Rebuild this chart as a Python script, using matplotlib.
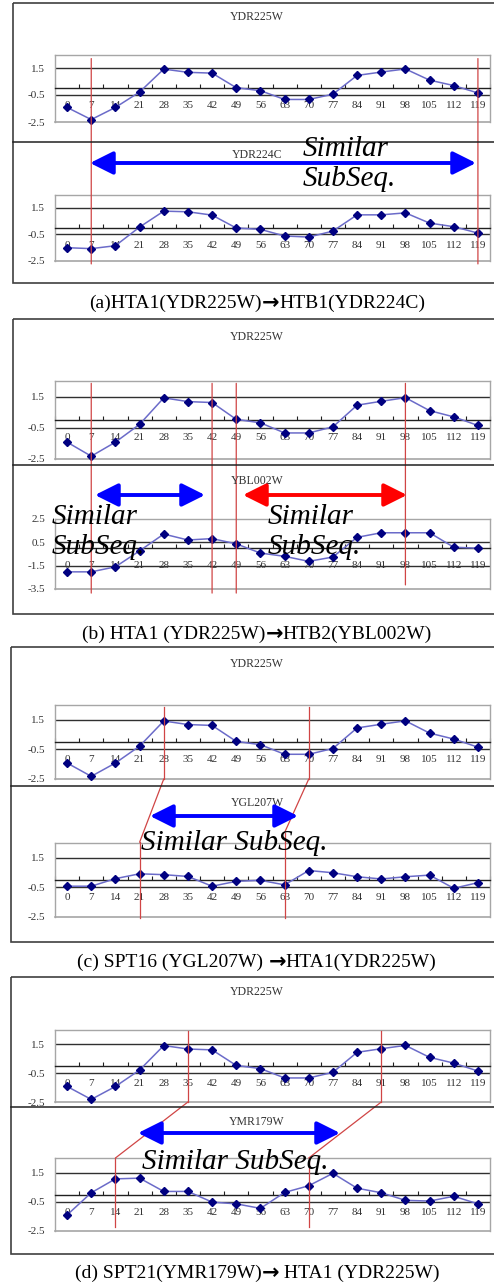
import matplotlib
matplotlib.use('Agg')
import matplotlib.pyplot as plt
from matplotlib.patches import ConnectionPatch, Rectangle

W, H = 494, 1287

days = [0, 7, 14, 21, 28, 35, 42, 49, 56, 63, 70, 77, 84, 91, 98, 105, 112, 119]

ydr225w = [-1.42, -2.32, -1.42, -0.28, 1.42, 1.18, 1.12, 0.04, -0.18, -0.83,
           -0.83, -0.44, 0.95, 1.2, 1.43, 0.6, 0.2, -0.35]
ydr224c = [-1.5, -1.57, -1.35, 0.05, 1.25, 1.2, 0.95, -0.02, -0.12, -0.62,
           -0.7, -0.25, 0.97, 0.97, 1.12, 0.35, 0.08, -0.4]
ybl002w = [-2.03, -2.03, -1.6, -0.23, 1.21, 0.7, 0.82, 0.37, -0.42, -0.7,
           -1.13, -0.76, 0.93, 1.32, 1.32, 1.32, 0.08, 0.0]
ygl207w = [-0.42, -0.42, 0.09, 0.42, 0.36, 0.24, -0.42, -0.09, -0.02, -0.33,
           0.64, 0.49, 0.22, 0.07, 0.22, 0.33, -0.56, -0.18]
ymr179w = [-1.4, 0.12, 1.07, 1.12, 0.21, 0.21, -0.52, -0.64, -0.95, 0.14,
           0.6, 1.45, 0.43, 0.12, -0.4, -0.45, -0.12, -0.64]

yticks_std = [-2.5, -0.5, 1.5]
yticks_b = [-3.5, -1.5, 0.5, 2.5]

captions = ['(a)HTA1(YDR225W)\u2192HTB1(YDR224C)',
            '(b) HTA1 (YDR225W)\u2192HTB2(YBL002W)',
            '(c) SPT16 (YGL207W) \u2192HTA1(YDR225W)',
            '(d) SPT21(YMR179W)\u2192 HTA1 (YDR225W)']

SERIF = ['Liberation Serif', 'DejaVu Serif']
plt.rcParams['font.family'] = SERIF

fig = plt.figure(figsize=(W / 100, H / 100), dpi=100)
renderer = fig.canvas.get_renderer()

ov = fig.add_axes([0, 0, 1, 1], zorder=5)
ov.set_xlim(0, W)
ov.set_ylim(H, 0)
ov.axis('off')
ov.patch.set_alpha(0)


def chart(top, bottom, values, yticks, ymax=2.5):
    ax = fig.add_axes([55 / W, 1 - bottom / H, (490 - 55) / W, (bottom - top) / H])
    ax.set_xlim(-0.5, 17.5)
    ax.set_ylim(yticks[0], ymax)
    for s in ['left', 'top', 'right']:
        ax.spines[s].set_color('#a6a6a6')
        ax.spines[s].set_linewidth(1)
    ax.spines['bottom'].set_position(('data', 0))
    ax.spines['bottom'].set_color('#202020')
    ax.spines['bottom'].set_linewidth(1)
    # tick marks between categories, labels under the categories
    ax.set_xticks([i + 0.5 for i in range(-1, 18)])
    ax.tick_params(axis='x', which='major', direction='in', length=3,
                   color='#202020', labelbottom=False)
    ax.set_xticks(range(len(days)), minor=True)
    ax.set_xticklabels([str(d) for d in days], minor=True)
    ax.tick_params(axis='x', which='minor', length=0, pad=9.5,
                   labelsize=8, labelcolor='#333333')
    ax.set_yticks(yticks)
    ax.set_yticklabels(['%.1f' % v for v in yticks])
    ax.tick_params(axis='y', length=0, pad=7, labelsize=8, labelcolor='#333333')
    for v in yticks:
        if yticks[0] < v < ymax:
            ax.axhline(v, color='#303030', lw=1, zorder=1)
    ax.axhline(yticks[0], color='#a6a6a6', lw=1.2, clip_on=False, zorder=1)
    ax.plot(range(len(days)), values, color='#6b6bc9', lw=1.1, marker='D', ms=3.8,
            mfc='#000080', mec='#000080', zorder=3, clip_on=False)
    return ax


def red_straight(ax_t, ax_b, day, y0, y1):
    i = days.index(day)
    cp = ConnectionPatch((i, y0), (i, y1), coordsA=ax_t.transData, coordsB=ax_b.transData,
                         color='#d04545', lw=0.9, zorder=3)
    fig.add_artist(cp)


def red_bent(ax_t, ax_b, day_t, day_b, y0, y2, y3):
    it, ib = days.index(day_t), days.index(day_b)
    lo = ax_t.get_ylim()[0]
    ax_t.plot([it, it], [y0, lo], color='#d04545', lw=0.9, clip_on=False, zorder=4)
    cp = ConnectionPatch((it, lo), (ib, y2), coordsA=ax_t.transData, coordsB=ax_b.transData,
                         color='#d04545', lw=0.9, zorder=3)
    fig.add_artist(cp)
    ax_b.plot([ib, ib], [y2, y3], color='#d04545', lw=0.9, clip_on=False, zorder=4)


def frame(x0, top, bottom, divider):
    ov.add_patch(Rectangle((x0, top), 520, bottom - top, fill=False, ec='#404040', lw=1.2))
    ov.plot([x0, W + 5], [divider, divider], color='#202020', lw=1.1)


def title(y, s):
    ov.text(257, y, s, ha='center', va='center', fontsize=8.5, color='#333333')


def arrow(x0, x1, y, color):
    ov.annotate('', xy=(x1, y), xytext=(x0, y),
                arrowprops=dict(arrowstyle='<|-|>,head_length=1.0,head_width=0.5',
                                color=color, lw=2.8, shrinkA=0, shrinkB=0,
                                mutation_scale=14))


def similar(x, y, s):
    ov.text(x, y, s, ha='left', va='center', fontsize=21, style='italic',
            linespacing=1.15, color='black')


def caption(y, s):
    # the arrow is a heavier glyph than the serif text around it
    left, right = s.split('\u2192')
    t1 = ov.text(0, y, left, ha='left', va='baseline', fontsize=14)
    t2 = ov.text(0, y + 1, '\u2192', ha='left', va='baseline', fontsize=15,
                 family='DejaVu Sans', weight='bold')
    t3 = ov.text(0, y, right, ha='left', va='baseline', fontsize=14)
    ws = [t.get_window_extent(renderer).width for t in (t1, t2, t3)]
    x = 257 - sum(ws) / 2
    for t, w in zip((t1, t2, t3), ws):
        t.set_x(x)
        x += w


# (a)
frame(13, 3, 283, 142)
a1 = chart(54.5, 122, ydr225w, yticks_std)
a2 = chart(194.5, 261, ydr224c, yticks_std)
title(17, 'YDR225W')
title(155, 'YDR224C')
for d in [7, 119]:
    red_straight(a1, a2, d, 2.2, -2.72)
arrow(90, 476, 163, '#0000ff')
similar(303, 164, 'Similar\nSubSeq.')
caption(308, captions[0])

# (b)
frame(13, 319, 614, 465)
b1 = chart(381, 459, ydr225w, yticks_std)
b2 = chart(519, 589, ybl002w, yticks_b)
title(337, 'YDR225W')
title(481, 'YBL002W')
for d in [7, 42, 49]:
    red_straight(b1, b2, d, 2.35, -3.85)
red_straight(b1, b2, 98, 2.35, -3.15)
arrow(95, 205, 495, '#0000ff')
arrow(243, 407, 495, '#ff0000')
similar(52, 532, 'Similar\nSubSeq.')
similar(268, 532, 'Similar\nSubSeq.')
caption(639, captions[1])

# (c)
frame(11, 647, 942, 786)
c1 = chart(705, 779, ydr225w, yticks_std)
c2 = chart(843, 917, ygl207w, yticks_std)
title(664, 'YDR225W')
title(803, 'YGL207W')
red_bent(c1, c2, 28, 21, 2.36, 2.55, -2.57)
red_bent(c1, c2, 70, 63, 2.36, 3.2, -2.57)
arrow(150, 298, 816, '#0000ff')
similar(141, 843, 'Similar SubSeq.')
caption(967, captions[2])

# (d)
frame(11, 977, 1254, 1107)
d1 = chart(1030, 1102, ydr225w, yticks_std)
d2 = chart(1158, 1231, ymr179w, yticks_std)
title(992, 'YDR225W')
title(1122, 'YMR179W')
red_bent(d1, d2, 35, 14, 2.4, 2.5, -2.25)
red_bent(d1, d2, 91, 70, 2.4, 2.5, -2.25)
arrow(138, 340, 1133, '#0000ff')
similar(142, 1162, 'Similar SubSeq.')
caption(1278, captions[3])

fig.savefig('out.png', dpi=100, facecolor='white')
